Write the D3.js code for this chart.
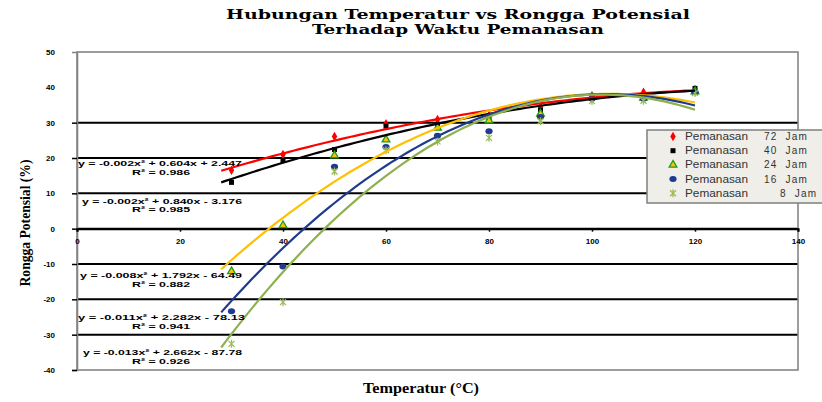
<!DOCTYPE html>
<html>
<head>
<meta charset="utf-8">
<script src="https://cdn.jsdelivr.net/npm/d3@7"></script>
<style>
  body { margin: 0; background: #fff; }
  svg { display: block; }
</style>
</head>
<body>
<script>
// data
const temps = [30, 40, 50, 60, 70, 80, 90, 100, 110, 120];
const p72 = [16.5, 21.0, 26.1, 29.7, 30.9, 32.0, 34.4, 37.6, 38.6, 39.4];
const p40 = [13.1, 19.3, 22.4, 29.0, 29.5, 31.1, 33.5, 37.7, 37.4, 39.7];
const p24 = [-12.1, 0.9, 20.7, 25.2, 28.5, 30.6, 32.5, 37.2, 37.0, 38.8];
const p16 = [-23.4, -10.7, 17.5, 23.1, 26.3, 27.6, 31.6, 36.8, 36.8, 38.6];
const p8 = [-32.6, -20.8, 16.2, 22.2, 24.7, 25.7, 30.4, 36.1, 36.2, 38.4];
const names = ["Pemanasan 72 Jam", "Pemanasan 40 Jam", "Pemanasan 24 Jam", "Pemanasan 16 Jam", "Pemanasan 8 Jam"];
const equations = ["y = -0.002x² + 0.604x + 2.447", "y = -0.002x² + 0.840x - 3.176", "y = -0.008x² + 1.792x - 64.49", "y = -0.011x² + 2.282x - 78.13", "y = -0.013x² + 2.662x - 87.78"];
const rsq = ["R² = 0.986", "R² = 0.985", "R² = 0.882", "R² = 0.941", "R² = 0.926"];
const xTicks = [0, 20, 40, 60, 80, 100, 120, 140];
const yTicks = [50, 40, 30, 20, 10, 0, -10, -20, -30, -40];
const yGrid = [30, 20, 10, 0, -10, -20, -30];

const allSeries = [p72, p40, p24, p16, p8];

// looks
const lineColors = ["#ff0000", "#000000", "#ffc000", "#1f3c8c", "#8fb04e"];
const eqPos = [[78, 242, 166, 175], [82, 242, 204, 212], [80, 242, 278, 287], [78, 245, 320, 329], [83, 242, 355, 364]];

const width = 822, height = 402;
const svg = d3.select("body").append("svg").attr("width", width).attr("height", height);

const x = d3.scaleLinear().domain([0, 140]).range([77, 798]);
const y = d3.scaleLinear().domain([-40, 50]).range([370, 52]);

// title
const title = svg.append("g").attr("font-family", "DejaVu Serif").attr("font-weight", "bold").attr("font-size", 12.5).attr("fill", "#000");
title.append("text").attr("x", 226).attr("y", 19).attr("textLength", 464).attr("lengthAdjust", "spacingAndGlyphs")
  .text("Hubungan Temperatur vs Rongga Potensial");
title.append("text").attr("x", 312).attr("y", 34).attr("textLength", 292).attr("lengthAdjust", "spacingAndGlyphs")
  .text("Terhadap Waktu Pemanasan");

// grid
svg.append("g").selectAll("line").data(yGrid).enter().append("line")
  .attr("x1", x(0)).attr("x2", x(140))
  .attr("y1", d => y(d)).attr("y2", d => y(d))
  .attr("stroke", "#000").attr("stroke-width", 2);

// plot border
svg.append("rect").attr("x", x(0)).attr("y", y(50)).attr("width", x(140) - x(0)).attr("height", y(-40) - y(50))
  .attr("fill", "none").attr("stroke", "#858585").attr("stroke-width", 1.6);

// y axis
const yAxis = svg.append("g").attr("transform", "translate(" + x(0) + ",0)")
  .call(d3.axisLeft(y).tickValues(yTicks).tickSize(5).tickPadding(17).tickFormat(d => String(d)));
yAxis.select(".domain").attr("stroke", "#858585").attr("stroke-width", 1.6);
yAxis.selectAll(".tick line").attr("stroke", "#000").attr("stroke-width", 1.5)
  .attr("opacity", d => d > 30 ? 0 : 1);
yAxis.selectAll("text").attr("font-family", "Liberation Sans").attr("font-weight", "bold").attr("font-size", 8).attr("fill", "#000");

// x axis at y = 0
const xAxis = svg.append("g").attr("transform", "translate(0," + y(0) + ")")
  .call(d3.axisBottom(x).tickValues(xTicks).tickSize(3).tickPadding(7).tickFormat(d => String(d)));
xAxis.select(".domain").attr("stroke", "#000").attr("stroke-width", 2);
xAxis.selectAll(".tick line").attr("stroke", "#000").attr("stroke-width", 1.5);
xAxis.selectAll("text").attr("font-family", "Liberation Sans").attr("font-weight", "bold").attr("font-size", 8).attr("fill", "#000");

// axis titles
svg.append("text").attr("x", 363).attr("y", 393).attr("textLength", 116).attr("lengthAdjust", "spacingAndGlyphs")
  .attr("font-family", "Liberation Serif").attr("font-weight", "bold").attr("font-size", 15)
  .text("Temperatur (°C)");
svg.append("text").attr("transform", "translate(30,223) rotate(-90)").attr("text-anchor", "middle")
  .attr("textLength", 127).attr("lengthAdjust", "spacingAndGlyphs")
  .attr("font-family", "Liberation Serif").attr("font-weight", "bold").attr("font-size", 14)
  .text("Rongga Potensial (%)");

// markers
const starPath = "M-3,-3L3,3M-3,3L3,-3M0,-4L0,4";
function drawMarker(g, i) {
  if (i === 0) g.append("path").attr("d", d3.symbol().type(d3.symbolDiamond).size(26)()).attr("fill", "#ff0000");
  if (i === 1) g.append("path").attr("d", d3.symbol().type(d3.symbolSquare).size(25)()).attr("fill", "#000");
  if (i === 2) g.append("path").attr("d", d3.symbol().type(d3.symbolTriangle).size(26)()).attr("fill", "#ffc000").attr("stroke", "#1a9e1a").attr("stroke-width", 1.3);
  if (i === 3) g.append("ellipse").attr("rx", 3.6).attr("ry", 3).attr("fill", "#1f3a90");
  if (i === 4) g.append("path").attr("d", starPath).attr("fill", "none").attr("stroke", "#9bbb59").attr("stroke-width", 1.3);
}

allSeries.forEach((vals, i) => {
  const g = svg.append("g");
  vals.forEach((v, j) => {
    const m = g.append("g").attr("transform", "translate(" + x(temps[j]) + "," + y(v) + ")");
    drawMarker(m, i);
  });
});

// quadratic least squares trendline (what Excel does)
function polyfit2(xs, ys) {
  let s = [0, 0, 0, 0, 0], t = [0, 0, 0];
  xs.forEach((xi, k) => {
    for (let p = 0; p < 5; p++) s[p] += Math.pow(xi, p);
    for (let p = 0; p < 3; p++) t[p] += ys[k] * Math.pow(xi, p);
  });
  const A = [[s[0], s[1], s[2], t[0]], [s[1], s[2], s[3], t[1]], [s[2], s[3], s[4], t[2]]];
  for (let c = 0; c < 3; c++) {
    for (let r = c + 1; r < 3; r++) {
      const f = A[r][c] / A[c][c];
      for (let k = c; k < 4; k++) A[r][k] -= f * A[c][k];
    }
  }
  const co = [0, 0, 0];
  for (let r = 2; r >= 0; r--) {
    let sum = A[r][3];
    for (let k = r + 1; k < 3; k++) sum -= A[r][k] * co[k];
    co[r] = sum / A[r][r];
  }
  return co;
}

const line = d3.line().x(d => x(d[0])).y(d => y(d[1]));
allSeries.forEach((vals, i) => {
  const co = polyfit2(temps, vals);
  const pts = d3.range(28, 120.01, 1).map(t => [t, co[0] + co[1] * t + co[2] * t * t]);
  svg.append("path").datum(pts).attr("d", line)
    .attr("fill", "none").attr("stroke", lineColors[i]).attr("stroke-width", 2.2);
});

// trendline equations
const eqG = svg.append("g").attr("font-family", "Liberation Sans").attr("font-weight", "bold").attr("font-size", 8).attr("fill", "#000");
equations.forEach((e, i) => {
  const p = eqPos[i];
  eqG.append("text").attr("x", p[0]).attr("y", p[2]).attr("textLength", p[1] - p[0]).attr("lengthAdjust", "spacingAndGlyphs").text(e);
  eqG.append("text").attr("x", 161).attr("y", p[3]).attr("text-anchor", "middle")
    .attr("textLength", 58).attr("lengthAdjust", "spacingAndGlyphs").text(rsq[i]);
});

// legend
const leg = svg.append("g");
leg.append("rect").attr("x", 647).attr("y", 130).attr("width", 190).attr("height", 73)
  .attr("fill", "#efeee9").attr("stroke", "#7f7f7f").attr("stroke-width", 1.5);
names.forEach((n, i) => {
  const ry = 136.5 + i * 14.2;
  const m = leg.append("g").attr("transform", "translate(673," + ry + ")");
  drawMarker(m, i);
  const parts = n.split(" ");
  leg.append("text").attr("x", 685).attr("y", ry + 3.5).attr("textLength", 63).attr("lengthAdjust", "spacingAndGlyphs")
    .attr("font-family", "Liberation Sans").attr("font-size", 10).attr("fill", "#333").text(parts[0]);
  leg.append("text").attr("x", parts[1].length === 1 ? 780 : 764).attr("y", ry + 3.5)
    .attr("font-family", "Liberation Sans").attr("font-size", 10).attr("letter-spacing", 1.2).attr("fill", "#333")
    .attr("xml:space", "preserve").text(parts[1] + "  " + parts[2]);
});
</script>
</body>
</html>
